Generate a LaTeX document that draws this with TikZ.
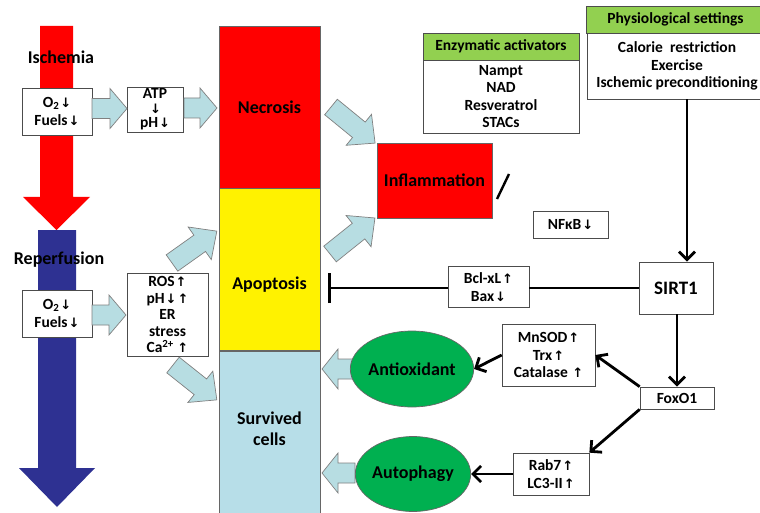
\documentclass[tikz,border=0pt]{standalone}
\usepackage{fontspec}
\setmainfont{Carlito}
\newfontfamily\symf{DejaVu Sans}
\usetikzlibrary{arrows.meta,shapes.geometric,calc}
\definecolor{lb}{HTML}{B7DDE2}
\definecolor{surv}{HTML}{B7DEE8}
\definecolor{hdr}{HTML}{92D050}
\definecolor{grn}{HTML}{00B050}
\definecolor{navy}{HTML}{2E3192}
\newcommand\dar{{\symf\fontsize{13}{13}\selectfont\kern1pt↓}}
\newcommand\uar{{\symf\fontsize{13}{13}\selectfont\kern1pt↑}}
\newcommand\barrow[5]{%
  \begin{scope}[shift={(#1,#2)},rotate=#3]
    \filldraw[barr] (0,-10) -- ({#4-#5},-10) -- ({#4-#5},-20) -- (#4,0)
      -- ({#4-#5},20) -- ({#4-#5},10) -- (0,10) -- cycle;
  \end{scope}}
\tikzset{
  sm/.style={font=\bfseries\fontsize{15.5}{17.5}\selectfont},
  bg/.style={font=\bfseries\fontsize{18}{21}\selectfont},
  box/.style={draw=black!70, fill=white, line width=0.7pt, align=center, inner sep=0pt, sm},
  col/.style={draw=black!60, line width=0.7pt, inner sep=0pt, align=center, bg},
  arr/.style={line width=2.8pt, -{Straight Barb[length=8pt,width=16pt]}},
  barr/.style={fill=lb, draw=gray, line width=0.7pt},
  oval/.style={ellipse, draw=black!60, fill=grn, line width=0.7pt, inner sep=0pt, bg},
}
\begin{document}
\begin{tikzpicture}[x=1pt,y=-1pt]
\useasboundingbox (0,0) rectangle (760,513);
\fill[white] (0,0) rectangle (760,513);
% big arrows
\fill[red] (40,26) -- (73,26) -- (73,197) -- (90,197) -- (56.5,230) -- (23,197) -- (40,197) -- cycle;
\fill[navy] (38,230) -- (76,230) -- (76,468) -- (95,468) -- (57,507) -- (19,468) -- (38,468) -- cycle;
\node[bg] (isch) at (61,57) {Ischemia};
\node[bg] (rep) at (59,260) {Reperfusion};
% left boxes
\node[box, minimum width=70pt, minimum height=47pt] (o2a) at (57,111.5) {O\textsubscript{2}\dar\\Fuels\dar};
\node[box, minimum width=56pt, minimum height=45pt, font=\bfseries\fontsize{15.5}{14.5}\selectfont] (atp) at (155,109.5) {ATP\\\dar\\pH\dar};
\node[box, minimum width=81pt, minimum height=83pt, font=\bfseries\fontsize{15.5}{16.5}\selectfont] (ros) at (167.5,314.5) {ROS\uar\\pH\dar\uar\\ER\\stress\\Ca\textsuperscript{2+}\,\uar};
\node[box, minimum width=70pt, minimum height=47pt] (o2b) at (57,313.5) {O\textsubscript{2}\dar\\Fuels\dar};
% column
\node[col, fill=red, minimum width=101pt, minimum height=162pt] (nec) at (269.5,107) {Necrosis};
\node[col, fill=yellow, minimum width=101pt, minimum height=162pt] (apo) at (269.5,269) {};
\node[bg] (apot) at (269.5,285) {Apoptosis};
\node[col, fill=surv, minimum width=101pt, minimum height=170pt] (sur) at (269.5,436) {};
\node[bg, align=center] (surt) at (269.5,429) {Survived\\cells};
% block arrows
\barrow{92}{108.5}{0}{35}{17}
\barrow{184}{108}{0}{33}{17}
\barrow{92}{315}{0}{34}{17}
\barrow{172}{263}{35.4}{55}{21}
\barrow{173}{365}{-38.5}{56}{21}
\barrow{331}{107}{-39.3}{57}{21}
\barrow{330}{254}{38.7}{57.6}{21}
\barrow{355}{369}{180}{33}{16}
\barrow{355}{473}{180}{33}{16}
% inflammation
\node[col, fill=red, minimum width=115pt, minimum height=75pt] (inf) at (434.5,180.5) {Inflammation};
\draw[line width=2.4pt] (497,199) -- (509,174);
% top right boxes
\node[box, fill=hdr, minimum width=156pt, minimum height=27pt] (enzh) at (501,46.5) {Enzymatic activators};
\node[box, minimum width=156pt, minimum height=73pt] (enzb) at (501,96.5) {Nampt\\NAD\\Resveratrol\\STACs};
\node[box, fill=hdr, minimum width=179pt, minimum height=27pt] (phyh) at (675.5,19.5) {Physiological settings};
\node[box, minimum width=179pt, minimum height=66pt, xshift=1.5pt] (phyb) at (675.5,66) {Calorie\ \ restriction\\Exercise\\Ischemic preconditioning};
% right side
\node[box, minimum width=75pt, minimum height=27pt] (nfkb) at (570.5,224.5) {NFκB\dar};
\node[box, minimum width=81pt, minimum height=41pt] (bcl) at (488.5,287) {Bcl-xL\uar\\Bax\dar};
\node[box, minimum width=74pt, minimum height=52pt, font=\bfseries\fontsize{19}{21}\selectfont] (sirt) at (676,288) {SIRT1};
\node[box, minimum width=74pt, minimum height=22pt] (fox) at (677,398) {FoxO1};
\node[box, minimum width=93pt, minimum height=62pt] (mn) at (548.5,355) {MnSOD\uar\\Trx\uar\\Catalase\ \uar};
\node[box, minimum width=76pt, minimum height=42pt] (rab) at (551,474) {Rab7\uar\\LC3-II\uar};
\node[oval, minimum width=110pt, minimum height=76pt] (anti) at (412,369) {Antioxidant};
\node[oval, minimum width=110pt, minimum height=75pt] (auto) at (413,474) {Autophagy};
% connectors
\coordinate (ax) at (687,0);
\draw[arr] (phyb.south -| ax) -- (sirt.north -| ax);
\draw[arr] (sirt.south -| fox.north) -- (fox.north);
\draw[arr] (fox.north west) -- (mn.east);
\draw[arr] (fox.south west) -- (rab.north east);
\draw[arr] (mn.west) -- (anti.east);
\draw[arr] (rab.west) -- (auto.east);
\coordinate (tb) at (328,0);
\draw[line width=2.8pt] (sirt.west) -- (sirt.west -| bcl.east);
\draw[line width=2.8pt, -{Bar[width=30pt]}] (bcl.west |- sirt.west) -- (sirt.west -| tb);
\end{tikzpicture}
\end{document}
